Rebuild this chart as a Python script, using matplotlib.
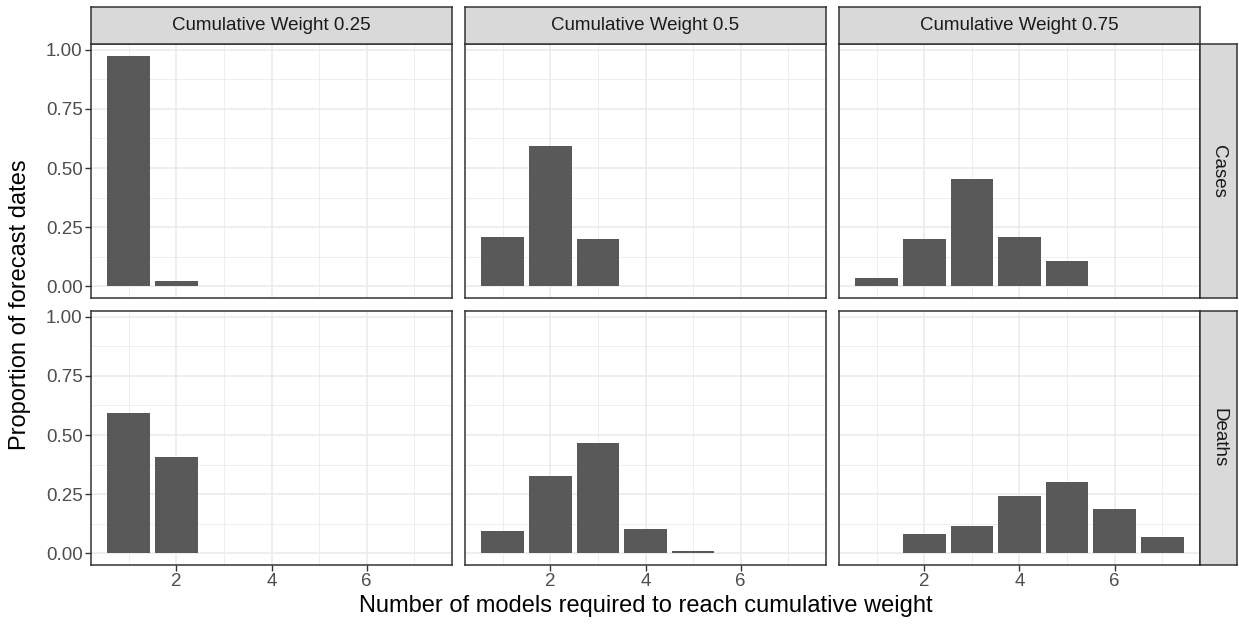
import numpy as np
import matplotlib
matplotlib.use('Agg')
import matplotlib.pyplot as plt
from matplotlib.ticker import MultipleLocator

plt.rcParams['font.family'] = ['Liberation Sans', 'DejaVu Sans']

# proportion of forecast dates per number of models needed
weights = ["Cumulative Weight 0.25", "Cumulative Weight 0.5", "Cumulative Weight 0.75"]
targets = ["Cases", "Deaths"]

cases_x = [[1, 2], [1, 2, 3], [1, 2, 3, 4, 5]]
cases_y = [[0.975, 0.024],
           [0.209, 0.592, 0.200],
           [0.036, 0.200, 0.453, 0.209, 0.108]]

deaths_x = [[1, 2], [1, 2, 3, 4, 5], [2, 3, 4, 5, 6, 7]]
deaths_y = [[0.594, 0.408],
            [0.096, 0.328, 0.468, 0.104, 0.011],
            [0.083, 0.117, 0.243, 0.302, 0.188, 0.070]]

xs = [cases_x, deaths_x]
ys = [cases_y, deaths_y]

W, H = 1239, 626
fig = plt.figure(figsize=(W / 100, H / 100), dpi=100)

col_left = [91, 465, 839]
pw = 361
row_top = [44, 311]
ph = 254
strip = 37

ymax = max(max(v) for r in ys for v in r)
ylim = (-0.05 * ymax, ymax * 1.05)
xlim = (0.55 - 0.345, 7.45 + 0.345)

border = '#333333'
grid_major = '#EBEBEB'

def px(x, y, w, h):
    return [x / W, 1 - (y + h) / H, w / W, h / H]

def strip_axes(rect, label, rot):
    sax = fig.add_axes(rect)
    sax.set_facecolor('#D9D9D9')
    sax.set_xticks([])
    sax.set_yticks([])
    for s in sax.spines.values():
        s.set_color(border)
        s.set_linewidth(1.1)
    sax.text(0.5, 0.5, label, ha='center', va='center', rotation=rot,
             fontsize=13.5, color='#1A1A1A', transform=sax.transAxes)

for r in range(2):
    for c in range(3):
        ax = fig.add_axes(px(col_left[c], row_top[r], pw, ph))
        ax.bar(xs[r][c], ys[r][c], width=0.9, color='#595959', zorder=3)
        ax.set_xlim(*xlim)
        ax.set_ylim(*ylim)
        ax.xaxis.set_major_locator(MultipleLocator(2))
        ax.xaxis.set_minor_locator(MultipleLocator(1))
        ax.yaxis.set_major_locator(MultipleLocator(0.25))
        ax.yaxis.set_minor_locator(MultipleLocator(0.125))
        ax.grid(which='major', color=grid_major, lw=1.2, zorder=0)
        ax.grid(which='minor', color=grid_major, lw=0.6, zorder=0)
        for s in ax.spines.values():
            s.set_color(border)
            s.set_linewidth(1.1)
        ax.tick_params(which='minor', length=0)
        ax.tick_params(which='major', length=4, width=1.0, color=border,
                       labelsize=13.5, labelcolor='#4D4D4D', pad=2)
        ax.set_yticks([0, 0.25, 0.5, 0.75, 1.0])
        ax.set_yticklabels(['0.00', '0.25', '0.50', '0.75', '1.00'])
        if c > 0:
            ax.tick_params(axis='y', which='major', length=0, labelleft=False)
        if r == 0:
            ax.tick_params(axis='x', which='major', length=0, labelbottom=False)

        # facet strips
        if r == 0:
            strip_axes(px(col_left[c], row_top[0] - strip, pw, strip), weights[c], 0)
        if c == 2:
            strip_axes(px(col_left[2] + pw, row_top[r], strip, ph), targets[r], -90)

fig.text((col_left[0] + col_left[2] + pw) / 2 / W, 1 - 606 / H,
         "Number of models required to reach cumulative weight",
         ha='center', va='center', fontsize=17, color='black')
fig.text(20 / W, 1 - 305 / H, "Proportion of forecast dates",
         ha='center', va='center', rotation=90, fontsize=17, color='black')

fig.savefig("out.png", dpi=100)
